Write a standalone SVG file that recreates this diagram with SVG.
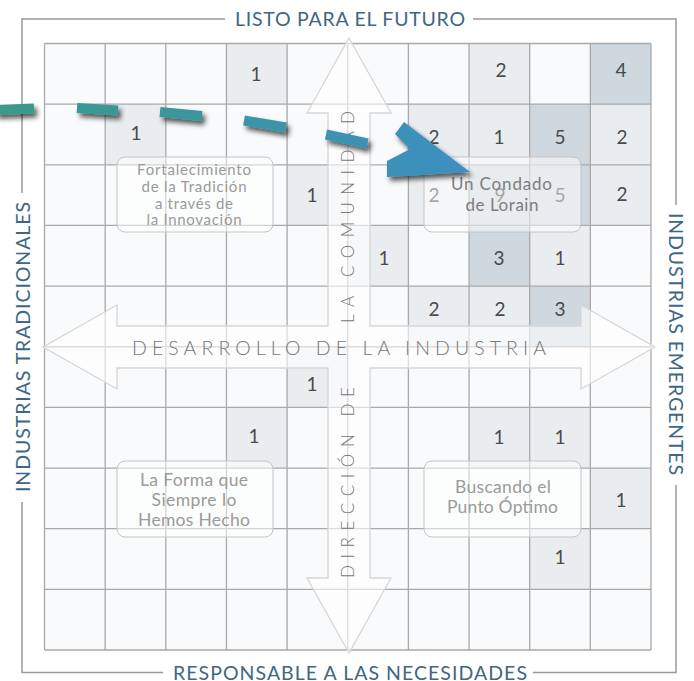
<svg xmlns="http://www.w3.org/2000/svg" width="694" height="681" viewBox="0 0 694 681">
<defs>
<style>
.frame{fill:none;stroke:#9a9a9a;stroke-width:1.5}
.title{font-family:Lato,"Open Sans","Liberation Sans",sans-serif;font-size:19.5px;fill:#3d6783}
.grid{fill:none;stroke:#a9a9a9;stroke-width:1.3}
.lt{fill:#eaedf0}
.dk{fill:#d0d8df}
.num{font-family:Lato,"Open Sans","Liberation Sans",sans-serif;font-size:19px;fill:#4a4a4a;text-anchor:middle}
.axis{font-family:Lato,"Open Sans","Liberation Sans",sans-serif;font-weight:300;fill:#777777}
.box{fill:#ffffff;fill-opacity:0.5;stroke:#c4c4c4;stroke-width:1}
.bt{font-family:Lato,"Open Sans","Liberation Sans",sans-serif;fill:#9a9a9a;text-anchor:middle}
.dash{stroke:url(#tg);stroke-width:10;fill:none}
</style>
<linearGradient id="tg" gradientUnits="userSpaceOnUse" x1="0" y1="0" x2="470" y2="0">
<stop offset="0" stop-color="#3a9a88"/>
<stop offset="1" stop-color="#3e8fc2"/>
</linearGradient>
<filter id="sh" x="-20%" y="-50%" width="150%" height="250%">
<feDropShadow dx="3" dy="4" stdDeviation="2.5" flood-color="#000" flood-opacity="0.65"/>
</filter>
</defs>
<rect width="694" height="681" fill="#ffffff"/>

<g id="frame">
<path class="frame" d="M22,193 V19 H225 M473,19 H676 V205 M676,485 V672.5 H533 M163,672.5 H22 V502"/>
<text class="title" x="235" y="25.7" textLength="230">LISTO PARA EL FUTURO</text>
<text class="title" x="173" y="679.5" textLength="354">RESPONSABLE A LAS NECESIDADES</text>
<text class="title" transform="translate(30,492) rotate(-90)" textLength="290">INDUSTRIAS TRADICIONALES</text>
<text class="title" transform="translate(669,213) rotate(90)" textLength="262">INDUSTRIAS EMERGENTES</text>
</g>

<g id="cells">
<rect x="44.5" y="43.5" width="606.5" height="606.5" fill="#f9fafb"/>
<rect class="lt" x="226.45" y="43.5" width="60.65" height="60.65"/>
<rect class="lt" x="469.05" y="43.5" width="60.65" height="60.65"/>
<rect class="dk" x="590.35" y="43.5" width="60.65" height="60.65"/>
<rect class="lt" x="105.15" y="104.15" width="60.65" height="60.65"/>
<rect class="lt" x="408.4" y="104.15" width="60.65" height="60.65"/>
<rect class="lt" x="469.05" y="104.15" width="60.65" height="60.65"/>
<rect class="dk" x="529.7" y="104.15" width="60.65" height="60.65"/>
<rect class="lt" x="590.35" y="104.15" width="60.65" height="60.65"/>
<rect class="lt" x="287.1" y="164.8" width="60.65" height="60.65"/>
<rect class="lt" x="408.4" y="164.8" width="60.65" height="60.65"/>
<rect class="dk" x="469.05" y="164.8" width="60.65" height="60.65"/>
<rect class="dk" x="529.7" y="164.8" width="60.65" height="60.65"/>
<rect class="lt" x="590.35" y="164.8" width="60.65" height="60.65"/>
<rect class="lt" x="347.75" y="225.45" width="60.65" height="60.65"/>
<rect class="dk" x="469.05" y="225.45" width="60.65" height="60.65"/>
<rect class="lt" x="529.7" y="225.45" width="60.65" height="60.65"/>
<rect class="lt" x="408.4" y="286.1" width="60.65" height="60.65"/>
<rect class="lt" x="469.05" y="286.1" width="60.65" height="60.65"/>
<rect class="dk" x="529.7" y="286.1" width="60.65" height="60.65"/>
<rect class="lt" x="287.1" y="346.75" width="60.65" height="60.65"/>
<rect class="lt" x="226.45" y="407.4" width="60.65" height="60.65"/>
<rect class="lt" x="469.05" y="407.4" width="60.65" height="60.65"/>
<rect class="lt" x="529.7" y="407.4" width="60.65" height="60.65"/>
<rect class="lt" x="590.35" y="468.05" width="60.65" height="60.65"/>
<rect class="lt" x="529.7" y="528.7" width="60.65" height="60.65"/>
</g>

<g id="grid">
<path class="grid" d="M44.5,43.5 V650 M105.15,43.5 V650 M165.8,43.5 V650 M226.45,43.5 V650 M287.1,43.5 V650 M347.75,43.5 V650 M408.4,43.5 V650 M469.05,43.5 V650 M529.7,43.5 V650 M590.35,43.5 V650 M651,43.5 V650 M44.5,43.5 H651 M44.5,104.15 H651 M44.5,164.8 H651 M44.5,225.45 H651 M44.5,286.1 H651 M44.5,346.75 H651 M44.5,407.4 H651 M44.5,468.05 H651 M44.5,528.7 H651 M44.5,589.35 H651 M44.5,650 H651"/>
</g>

<g id="counts">
<text class="num" x="256" y="81">1</text>
<text class="num" x="501" y="77">2</text>
<text class="num" x="621" y="77">4</text>
<text class="num" x="136" y="140">1</text>
<text class="num" x="434" y="144">2</text>
<text class="num" x="499" y="144">1</text>
<text class="num" x="560" y="144">5</text>
<text class="num" x="622" y="144">2</text>
<text class="num" x="312" y="202">1</text>
<text class="num" x="434" y="202">2</text>
<text class="num" x="500" y="202">9</text>
<text class="num" x="560" y="202">5</text>
<text class="num" x="622" y="201">2</text>
<text class="num" x="384" y="265">1</text>
<text class="num" x="499" y="265">3</text>
<text class="num" x="560" y="265">1</text>
<text class="num" x="434" y="316">2</text>
<text class="num" x="500" y="316">2</text>
<text class="num" x="560" y="316">3</text>
<text class="num" x="312" y="391">1</text>
<text class="num" x="254" y="443">1</text>
<text class="num" x="499" y="444">1</text>
<text class="num" x="560" y="444">1</text>
<text class="num" x="621" y="507">1</text>
<text class="num" x="560" y="564">1</text>
</g>

<g id="axes">
<polygon points="349,38 391,113 370,113 370,326 581,326 581,305 655,347 581,389 581,368 370,368 370,578 391,578 349,653 307,578 328,578 328,368 117,368 117,389 43,347 117,305 117,326 328,326 328,113 307,113" fill="#ffffff" fill-opacity="0.6" stroke="#d6d6d6" stroke-width="1.3"/>
<text class="axis" x="132" y="355" font-size="19.5" textLength="414">DESARROLLO DE LA INDUSTRIA</text>
<text class="axis" transform="translate(354,323) rotate(-90)" font-size="17" textLength="212">LA COMUNIDAD</text>
<text class="axis" transform="translate(354,578) rotate(-90)" font-size="17" textLength="191">DIRECCIÓN DE</text>
</g>

<g id="q-fortalecimiento">
<rect class="box" x="117" y="157" width="156" height="75" rx="8"/>
<text class="bt" font-size="15" x="194" y="175" textLength="114">Fortalecimiento</text>
<text class="bt" font-size="15" x="194" y="192" textLength="105">de la Tradición</text>
<text class="bt" font-size="15" x="194" y="208.5" textLength="78">a través de</text>
<text class="bt" font-size="15" x="194" y="225" textLength="95">la Innovación</text>
</g>

<g id="q-lorain">
<rect class="box" x="424" y="157" width="157" height="75" rx="8"/>
<text class="bt" font-size="17" x="501.5" y="189.5" style="fill:#7d7d7d" textLength="101">Un Condado</text>
<text class="bt" font-size="17" x="502" y="210.5" style="fill:#7d7d7d" textLength="73">de Lorain</text>
</g>

<g id="q-forma">
<rect class="box" x="117" y="461" width="156" height="76" rx="8"/>
<text class="bt" font-size="17.5" x="194" y="486" textLength="108">La Forma que</text>
<text class="bt" font-size="17.5" x="194" y="506" textLength="85">Siempre lo</text>
<text class="bt" font-size="17.5" x="194" y="526" textLength="112">Hemos Hecho</text>
</g>

<g id="q-buscando">
<rect class="box" x="424" y="461" width="157" height="76" rx="8"/>
<text class="bt" font-size="17.5" x="503" y="493" textLength="96">Buscando el</text>
<text class="bt" font-size="17.5" x="502.5" y="513" textLength="111">Punto Óptimo</text>
</g>

<g id="connectors" filter="url(#sh)">
<line class="dash" x1="-5" y1="110" x2="34" y2="108.5"/>
<line class="dash" x1="77" y1="108" x2="118" y2="110.5"/>
<line class="dash" x1="160" y1="112" x2="202" y2="116"/>
<line class="dash" x1="244" y1="120.5" x2="286" y2="127.5"/>
<line class="dash" x1="326" y1="134.5" x2="367.5" y2="143.5"/>
<polygon points="404,122 470,172 387,177 387,161 410,149 395,134" fill="url(#tg)"/>
</g>
</svg>
